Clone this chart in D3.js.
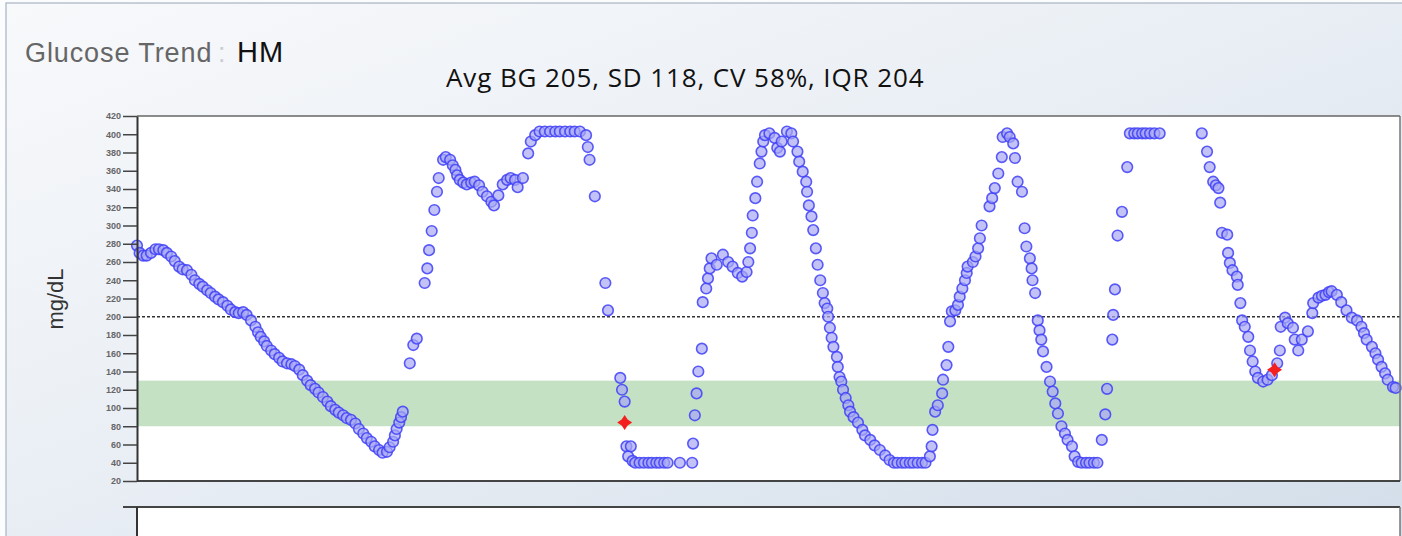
<!DOCTYPE html>
<html>
<head>
<meta charset="utf-8">
<script src="https://d3js.org/d3.v7.min.js"></script>
<style>
 body { margin: 0; overflow: hidden; }
 svg { display: block; }
</style>
</head>
<body>
<script>
// sensor readings, [minute of day, mg/dL]
var overnight = [
 [0,278],[3,270],[7,267],[11,267],[16,270],[21,274],[25,274],[30,273],[34,270],[39,266],
 [43,261],[48,255],[52,252],[57,251],[62,246],[66,240],[71,236],[75,233],[80,229],[84,226],
 [89,222],[93,219],[98,216],[103,212],[107,208],[112,205],[116,204],[121,205],[125,202],[130,196],
 [135,189],[138,183],[141,178],[145,173],[148,168],[153,163],[157,159],[162,155],[166,151],[171,149],
 [176,148],[180,146],[185,142],[189,136],[194,130],[198,125],[203,121],[207,117],[212,112],[217,107],
 [221,102],[226,98],[230,95],[235,92],[239,89],[244,87],[249,83],[253,77],[258,72],[262,67],
 [267,63],[271,58],[276,54],[280,51],[285,52],[288,57],[292,63],[294,70],[296,77],[299,84],
 [301,90],[303,96]
];
var morning = [
 [311,149],[315,169],[319,176],
 [328,237],[331,253],[333,273],[336,294],[339,317],[342,337],[344,352],[349,372],[352,375],[357,372],
 [360,366],[363,361],[365,355],[368,350],[372,347],[376,345],[381,347],[385,348],[390,344],[394,337],
 [399,332],[404,326],[407,322],[412,333],[417,345],[422,350],[426,352],[431,350],[434,342],[440,352],
 [446,379],[449,392],[454,399],[459,403],[465,403],[471,403],[477,403],[482,403],[488,403],[494,403],
 [499,403],[505,403],[512,399],[514,386],[516,372],[522,332]
];
var midday = [
 [534,237],[537,207],[551,133],[553,120],[556,107],[558,58],[560,47],[563,58],[565,42],[568,40],
 [573,40],[578,40],[583,40],[587,40],[592,40],[596,40],[601,40],[605,40],[619,40],[633,40],
 [634,61],[636,92],[638,116],[640,140],[644,165],[645,216],[649,231],[651,242],[653,253],[655,264],
 [661,257],[668,268],[674,260],[679,255],[685,248],[690,244],[695,249],[697,260],[699,275],[701,292],
 [702,311],[705,330],[707,348],[710,368],[712,381],[714,392],[716,399],[721,401],[727,396],[730,385],
 [733,381],[735,392],[741,403],[746,401],[748,392],[753,381],[755,370],[759,359],[763,348],[764,337],
 [766,322],[769,310],[771,295],[774,275],[776,257],[779,240],[782,226],[784,215],[787,209],[788,200],
 [790,188],[792,177],[794,167],[798,156],[799,145],[801,134],[803,129],[805,120],[808,111],[811,103],
 [813,96],[817,90],[822,84],[827,76],[830,70],[836,65],[841,59],[847,54],[853,48],[858,43],
 [863,40],[867,40],[872,40],[876,40],[881,40],[885,40],[890,40],[895,40],[899,40]
];
var afternoon = [
 [904,47],[906,58],[907,76],[910,96],[913,103],[918,116],[919,131],[923,147],[925,167],[927,195],
 [929,206],[933,207],[936,213],[938,222],[941,231],[944,240],[946,248],[947,255],[953,260],[956,266],
 [959,275],[961,286],[963,300],[972,321],[975,330],[978,341],[982,357],[986,375],[987,397],[992,401],
 [995,397],[999,390],[1001,374],[1004,348],[1009,337],[1012,297],[1014,277],[1018,264],[1020,253],[1021,240],
 [1024,226],[1027,196],[1029,185],[1031,175],[1033,162],[1037,145],[1041,129],[1044,118],[1047,105],[1050,94],
 [1054,80],[1058,72],[1061,65],[1066,58],[1069,47],[1073,41],[1077,40],[1082,40],[1086,40],[1091,40],
 [1095,40]
];
var evening = [
 [1100,65],[1104,93],[1106,121],[1112,175],[1113,202],[1115,230],[1118,289],[1123,315],[1129,364],[1132,401],
 [1137,401],[1141,401],[1146,401],[1150,401],[1155,401],[1160,401],[1166,401],
 [1214,401],[1220,381],[1223,364],[1227,348],[1230,344],[1233,341],[1235,325],[1237,292],[1243,290],
 [1244,270],[1246,259],[1249,251],[1254,244],[1255,235],[1258,215],[1260,196],[1263,189],[1267,178],[1269,163],
 [1272,151],[1275,140],[1278,133],[1284,129],[1289,131],[1294,136],[1300,149],[1303,163],[1304,189],[1309,199],
 [1312,193],[1318,188],[1320,175],[1324,163],[1328,175],[1335,184],[1340,204],[1341,215],[1347,221],[1351,223],
 [1355,224],[1359,227],[1362,228],[1368,224],[1373,216],[1379,207],[1385,199],[1391,196],[1396,189],[1399,182],
 [1402,175],[1408,167],[1412,160],[1415,153],[1419,145],[1423,138],[1426,131],[1432,123],[1435,122]
];
// meter (fingerstick) values
var meter = [[556,84],[1297,142]];

var yTicks = [20,40,60,80,100,120,140,160,180,200,220,240,260,280,300,320,340,360,380,400,420];
var targetBand = [80,130];
var highLine = 200;
var statsText = "Avg BG 205, SD 118, CV 58%, IQR 204";

var W = 1402, H = 536;
var pLeft = 137, pRight = 1400, pTop = 116, pBottom = 481;

var svg = d3.select("body").append("svg").attr("width", W).attr("height", H);

var defs = svg.append("defs");
var grad = defs.append("linearGradient").attr("id", "bg")
 .attr("x1", "0%").attr("y1", "0%").attr("x2", "100%").attr("y2", "100%");
grad.append("stop").attr("offset", "0%").attr("stop-color", "#f8f9fb");
grad.append("stop").attr("offset", "45%").attr("stop-color", "#eaeff5");
grad.append("stop").attr("offset", "100%").attr("stop-color", "#d3deea");

svg.append("rect").attr("width", W).attr("height", H).attr("fill", "#fbfcfd");
svg.append("rect").attr("x", 6).attr("y", 3).attr("width", W).attr("height", H)
 .attr("fill", "url(#bg)").attr("stroke", "#a9b3c1").attr("stroke-width", 1.2);

// titles
var title = svg.append("text").attr("x", 25).attr("y", 62)
 .style("font-family", "Liberation Sans, Arial, sans-serif").style("font-size", "27px");
title.append("tspan").attr("fill", "#666").style("letter-spacing", "0.9px").text("Glucose Trend");
title.append("tspan").attr("x", 218).attr("fill", "#c9ccd2").text(":");
title.append("tspan").attr("x", 237).attr("fill", "#111").style("font-size", "29px")
 .style("letter-spacing", "1px").text("HM");

svg.append("text").attr("x", 446).attr("y", 87)
 .style("font-family", "Open Sans, sans-serif").style("font-size", "26px")
 .style("letter-spacing", "0.9px")
 .attr("fill", "#111").text(statsText);

var x = d3.scaleLinear().domain([0, 1440]).range([pLeft, pRight]);
var y = d3.scaleLinear().domain([20, 420]).range([pBottom, pTop]);

// plot area
svg.append("rect").attr("x", pLeft).attr("y", pTop).attr("width", pRight - pLeft).attr("height", pBottom - pTop)
 .attr("fill", "#fff");

svg.append("rect").attr("x", pLeft).attr("width", pRight - pLeft)
 .attr("y", y(targetBand[1])).attr("height", y(targetBand[0]) - y(targetBand[1]))
 .attr("fill", "#c4e1c3");

svg.append("line").attr("x1", pLeft).attr("x2", pRight).attr("y1", y(highLine)).attr("y2", y(highLine))
 .attr("stroke", "#333").attr("stroke-width", 1.4).attr("stroke-dasharray", "3,2");

var readings = overnight.concat(morning, midday, afternoon, evening);

svg.append("g").selectAll("circle")
 .data(readings)
 .enter().append("circle")
 .attr("cx", function(d) { return x(d[0]); })
 .attr("cy", function(d) { return y(d[1]); })
 .attr("r", 5.3)
 .attr("fill", "#a8a8f4")
 .attr("fill-opacity", 0.7)
 .attr("stroke", "#4040f8")
 .attr("stroke-opacity", 0.85)
 .attr("stroke-width", 1.6);

// four point star for meter readings
var star4 = {
 draw: function(ctx, size) {
  var r = Math.sqrt(size), k = r * 0.4;
  ctx.moveTo(0, -r);
  ctx.lineTo(k, -k); ctx.lineTo(r, 0); ctx.lineTo(k, k);
  ctx.lineTo(0, r); ctx.lineTo(-k, k); ctx.lineTo(-r, 0); ctx.lineTo(-k, -k);
  ctx.closePath();
 }
};
svg.append("g").selectAll("path")
 .data(meter)
 .enter().append("path")
 .attr("transform", function(d) { return "translate(" + x(d[0]) + "," + y(d[1]) + ")"; })
 .attr("d", d3.symbol().type(star4).size(56))
 .attr("fill", "#f42020");

// borders
svg.append("line").attr("x1", pLeft).attr("x2", pRight).attr("y1", pTop).attr("y2", pTop)
 .attr("stroke", "#666").attr("stroke-width", 1.5);
svg.append("line").attr("x1", pRight).attr("x2", pRight).attr("y1", pTop).attr("y2", pBottom)
 .attr("stroke", "#777").attr("stroke-width", 1.5);
svg.append("line").attr("x1", pLeft).attr("x2", pRight).attr("y1", pBottom).attr("y2", pBottom)
 .attr("stroke", "#444").attr("stroke-width", 2);

var yAxis = svg.append("g").attr("transform", "translate(" + pLeft + ",0)")
 .call(d3.axisLeft(y).tickValues(yTicks).tickSize(14).tickSizeOuter(0).tickPadding(2));
yAxis.select(".domain").attr("stroke", "#333").attr("stroke-width", 2);
yAxis.selectAll(".tick line").attr("stroke", "#444").attr("stroke-width", 1.5);
yAxis.selectAll(".tick text").attr("fill", "#666")
 .style("font-family", "Liberation Sans, Arial, sans-serif").style("font-size", "9px").style("font-weight", "bold");

svg.append("text").attr("transform", "translate(63,299) rotate(-90)")
 .attr("text-anchor", "middle")
 .style("font-family", "Liberation Sans, Arial, sans-serif").style("font-size", "22px")
 .attr("fill", "#333").text("mg/dL");

// second panel, cut off at the bottom
svg.append("rect").attr("x", pLeft).attr("y", 507).attr("width", pRight - pLeft).attr("height", 40).attr("fill", "#fff");
svg.append("line").attr("x1", 123).attr("x2", pRight).attr("y1", 507).attr("y2", 507)
 .attr("stroke", "#444").attr("stroke-width", 2);
svg.append("line").attr("x1", pLeft).attr("x2", pLeft).attr("y1", 507).attr("y2", H)
 .attr("stroke", "#333").attr("stroke-width", 2);
svg.append("line").attr("x1", pRight).attr("x2", pRight).attr("y1", 507).attr("y2", H)
 .attr("stroke", "#777").attr("stroke-width", 1.5);
</script>
</body>
</html>
